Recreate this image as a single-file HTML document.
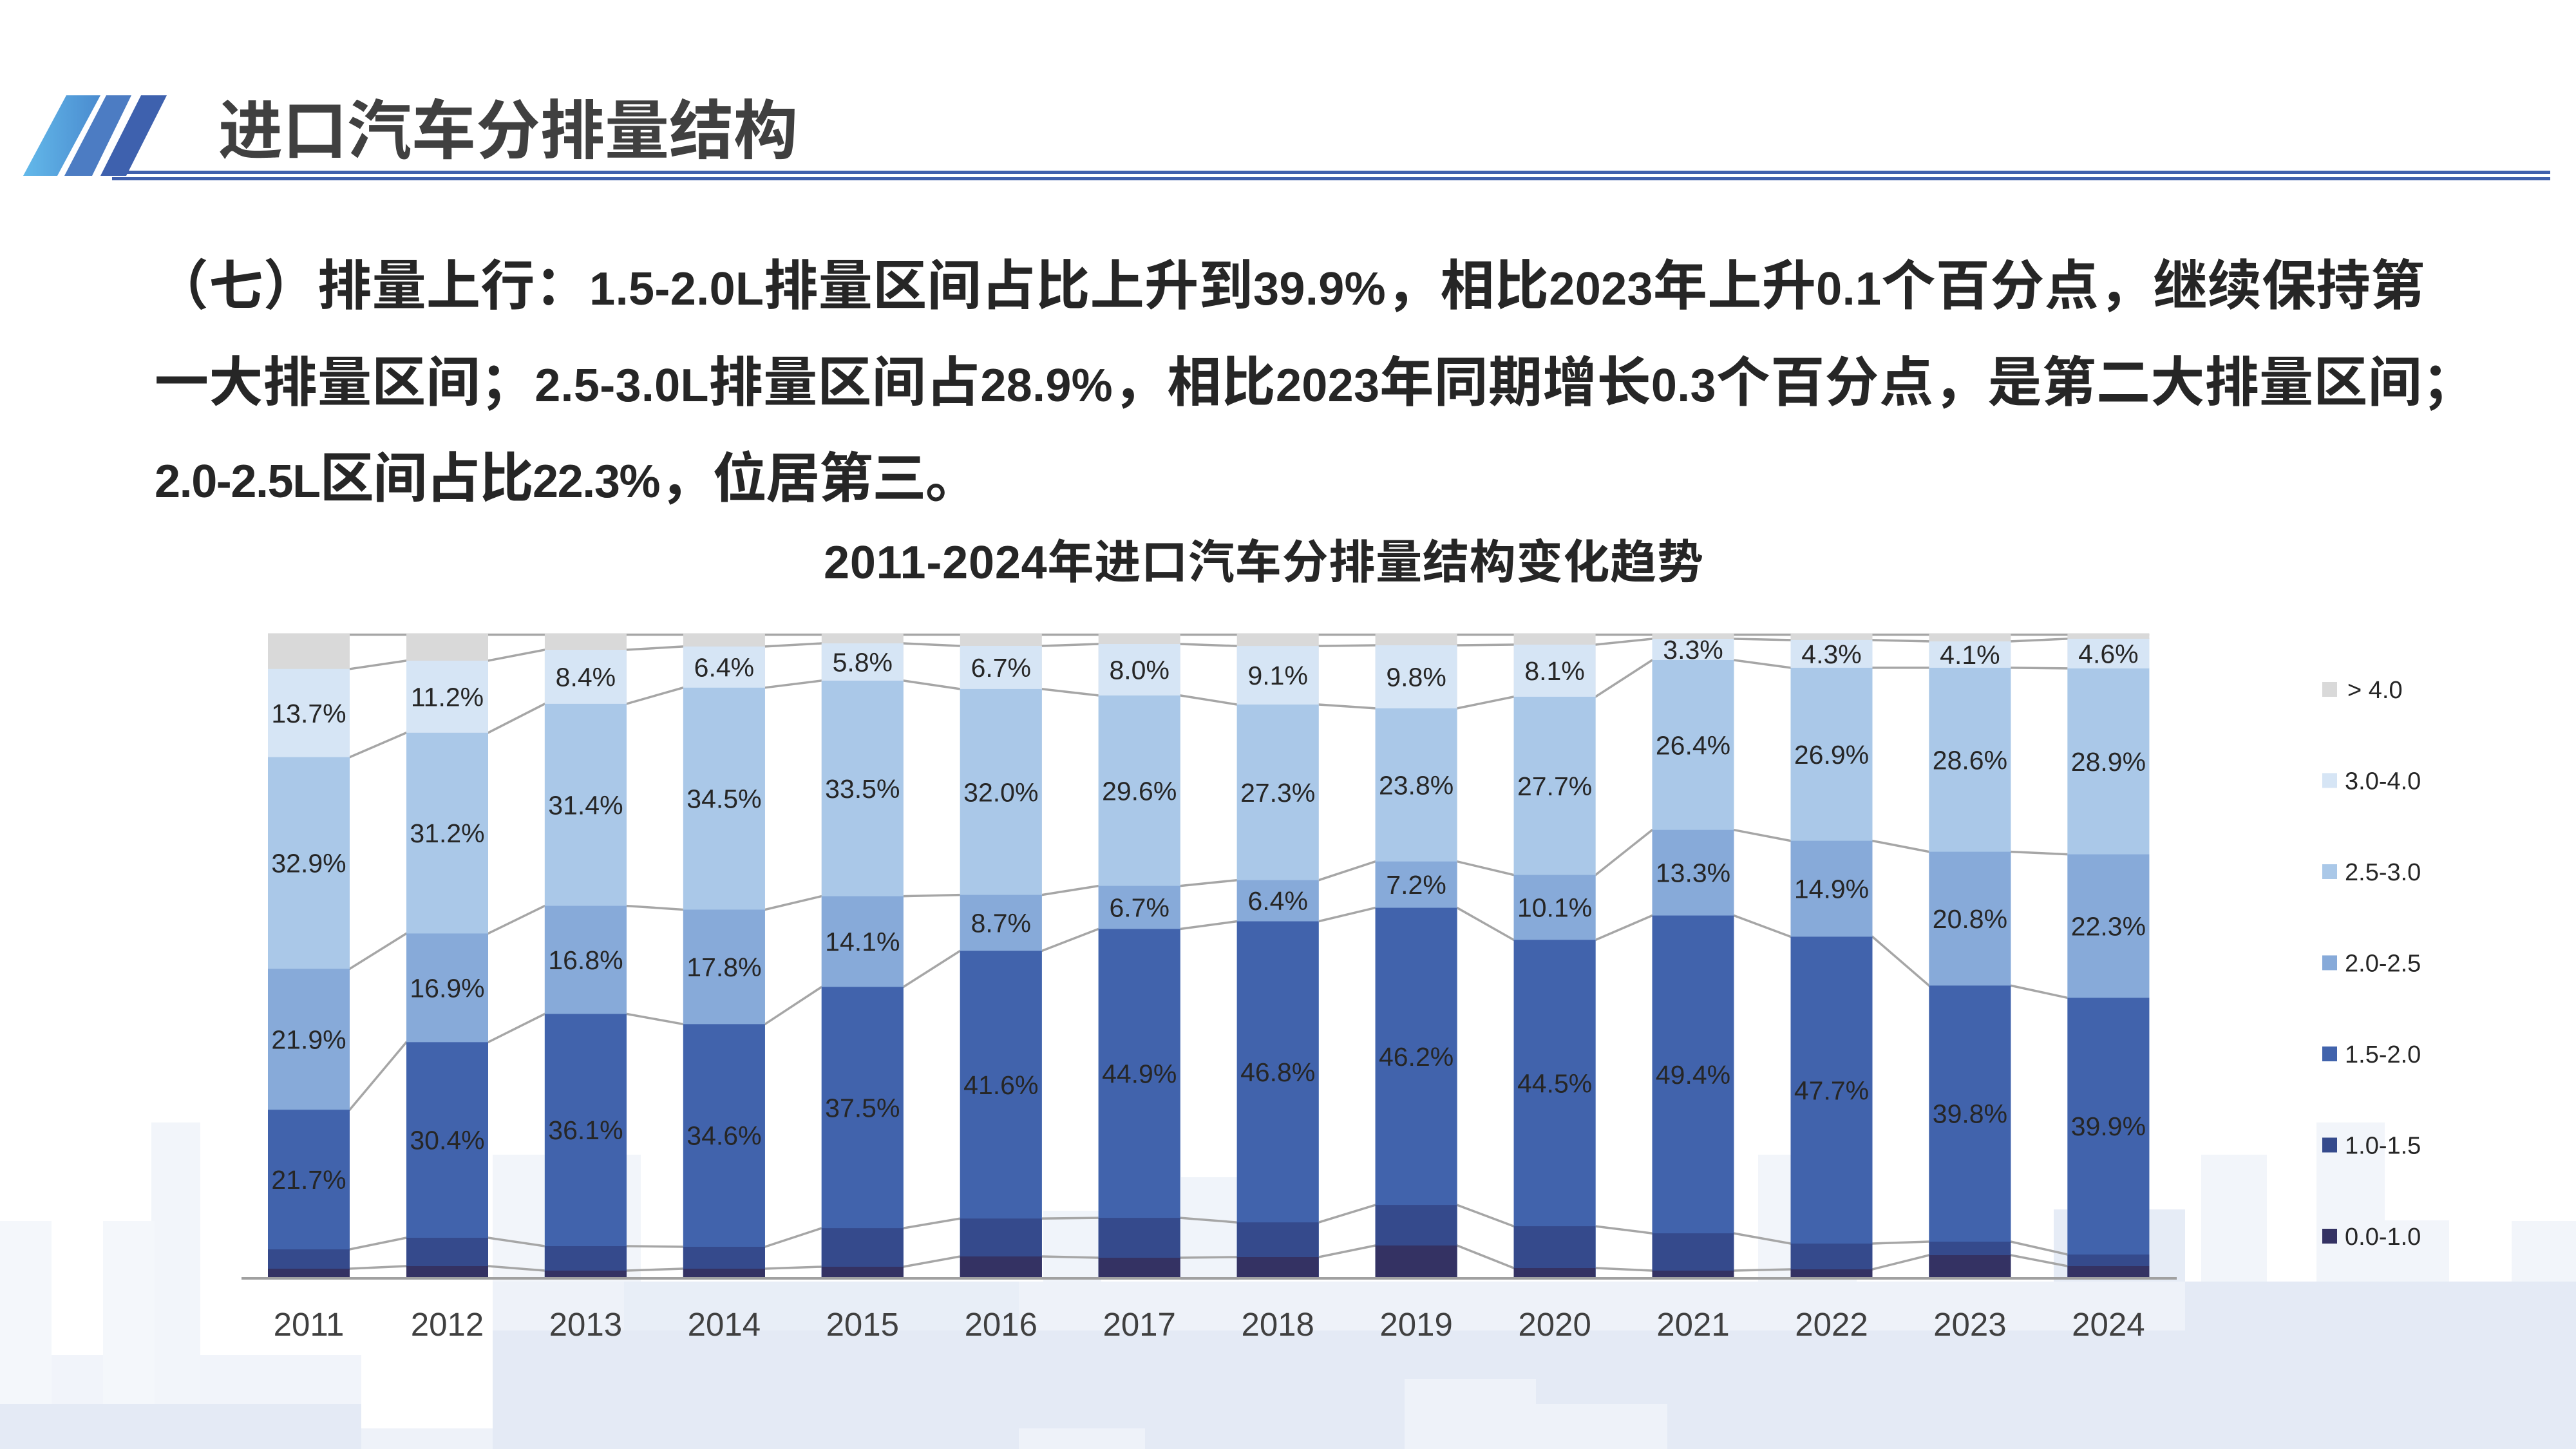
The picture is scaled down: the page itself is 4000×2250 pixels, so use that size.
<!DOCTYPE html>
<html>
<head>
<meta charset="utf-8">
<style>
html,body{margin:0;padding:0;background:#ffffff;}
svg{display:block;}
text{font-family:"Liberation Sans","Noto Sans CJK SC",sans-serif;}
</style>
</head>
<body>
<svg width="4000" height="2250" viewBox="0 0 4000 2250" xmlns="http://www.w3.org/2000/svg">
<defs>
<linearGradient id="g1" x1="0" y1="0" x2="1" y2="0">
<stop offset="0" stop-color="#63b9ea"/><stop offset="1" stop-color="#4a8bcf"/>
</linearGradient>
</defs>

<!-- faint skyline background -->
<g>
<rect x="0" y="2104" width="561" height="146" fill="#f1f4fa"/>
<rect x="235" y="1743" width="76" height="440" fill="#f2f5fa"/>
<rect x="0" y="1896" width="80" height="290" fill="#f4f7fb"/>
<rect x="160" y="1896" width="80" height="290" fill="#f4f7fb"/>
<rect x="765" y="1793" width="230" height="280" fill="#f2f5fa"/>
<rect x="1620" y="1880" width="90" height="110" fill="#f0f4fa"/>
<rect x="1834" y="1828" width="90" height="160" fill="#f0f4fa"/>
<rect x="2730" y="1793" width="153" height="280" fill="#f2f5fa"/>
<rect x="3418" y="1793" width="102" height="200" fill="#f2f5fa"/>
<rect x="3597" y="1743" width="106" height="250" fill="#f2f5fa"/>
<rect x="3703" y="1895" width="100" height="100" fill="#f2f5fa"/>
<rect x="3900" y="1896" width="100" height="100" fill="#f2f5fa"/>
<rect x="3189" y="1878" width="204" height="200" fill="#e6ecf6"/>
<rect x="765" y="1990" width="2628" height="80" fill="#eef2f9"/>
<rect x="969" y="1990" width="613" height="90" fill="#e8eef7"/>
<rect x="3393" y="1990" width="607" height="260" fill="#e4eaf5"/>
<rect x="765" y="2066" width="2628" height="184" fill="#e4eaf5"/>
<rect x="0" y="2180" width="561" height="70" fill="#e4eaf5"/>
<rect x="561" y="2218" width="204" height="32" fill="#eef2f9"/>
<rect x="1582" y="2218" width="196" height="32" fill="#eef2f9"/>
<rect x="2181" y="2141" width="204" height="109" fill="#eef2f9"/>
<rect x="2385" y="2180" width="204" height="70" fill="#eef2f9"/>
</g>

<!-- header -->
<polygon points="103,148 156,148 89,273 36,273" fill="url(#g1)"/>
<polygon points="165,148 204,148 143,273 100,273" fill="#4c7cc3"/>
<polygon points="219,148 259,148 196,273 156,273" fill="#3e61ae"/>
<rect x="196" y="265" width="3764" height="5" fill="#4060ad"/>
<rect x="174" y="275" width="3786" height="5" fill="#4060ad"/>
<text x="339" y="238" font-size="100" font-weight="bold" fill="#404040">进口汽车分排量结构</text>

<!-- paragraph -->
<g font-size="84" font-weight="bold" fill="#262626">
<text x="240" y="473" textLength="3525" lengthAdjust="spacing">（七）排量上行：<tspan font-size="72">1.5-2.0L</tspan>排量区间占比上升到<tspan font-size="72">39.9%</tspan>，相比<tspan font-size="72">2023</tspan>年上升<tspan font-size="72">0.1</tspan>个百分点，继续保持第</text>
<text x="240" y="623" textLength="3605" lengthAdjust="spacing">一大排量区间；<tspan font-size="72">2.5-3.0L</tspan>排量区间占<tspan font-size="72">28.9%</tspan>，相比<tspan font-size="72">2023</tspan>年同期增长<tspan font-size="72">0.3</tspan>个百分点，是第二大排量区间；</text>
<text x="240" y="772" textLength="1281" lengthAdjust="spacing"><tspan font-size="72">2.0-2.5L</tspan>区间占比<tspan font-size="72">22.3%</tspan>，位居第三。</text>
</g>

<!-- chart title -->
<text x="1279" y="898" font-size="72" font-weight="bold" fill="#262626" textLength="1366" lengthAdjust="spacing">2011-2024年进口汽车分排量结构变化趋势</text>

<!-- series connector lines -->
<g fill="none" stroke="#a6a6a6" stroke-width="3.5">
<polyline points="416,1970 543,1970 631,1966 758,1966 845.9,1973 972.9,1973 1060.9,1970 1187.9,1970 1275.8,1967 1402.8,1967 1490.8,1951 1617.8,1951 1705.7,1953 1832.7,1953 1920.7,1952 2047.7,1952 2135.6,1934 2262.6,1934 2350.6,1969 2477.6,1969 2565.5,1973 2692.5,1973 2780.5,1971 2907.5,1971 2995.4,1949 3122.4,1949 3210.4,1966 3337.4,1966"/>
<polyline points="416,1940 543,1940 631,1922 758,1922 845.9,1935 972.9,1935 1060.9,1936 1187.9,1936 1275.8,1907.1 1402.8,1907.1 1490.8,1892.1 1617.8,1892.1 1705.7,1891.1 1832.7,1891.1 1920.7,1898.1 2047.7,1898.1 2135.6,1871.1 2262.6,1871.1 2350.6,1904.1 2477.6,1904.1 2565.5,1915.1 2692.5,1915.1 2780.5,1931 2907.5,1931 2995.4,1928 3122.4,1928 3210.4,1948 3337.4,1948"/>
<polyline points="416,1723.2 543,1723.2 631,1618.3 758,1618.3 845.9,1574.4 972.9,1574.4 1060.9,1590.3 1187.9,1590.3 1275.8,1532.5 1402.8,1532.5 1490.8,1476.5 1617.8,1476.5 1705.7,1442.5 1832.7,1442.5 1920.7,1430.6 2047.7,1430.6 2135.6,1409.6 2262.6,1409.6 2350.6,1459.5 2477.6,1459.5 2565.5,1421.6 2692.5,1421.6 2780.5,1454.5 2907.5,1454.5 2995.4,1530.4 3122.4,1530.4 3210.4,1549.4 3337.4,1549.4"/>
<polyline points="416,1504.4 543,1504.4 631,1449.5 758,1449.5 845.9,1406.6 972.9,1406.6 1060.9,1412.5 1187.9,1412.5 1275.8,1391.6 1402.8,1391.6 1490.8,1389.6 1617.8,1389.6 1705.7,1375.6 1832.7,1375.6 1920.7,1366.7 2047.7,1366.7 2135.6,1337.7 2262.6,1337.7 2350.6,1358.6 2477.6,1358.6 2565.5,1288.7 2692.5,1288.7 2780.5,1305.6 2907.5,1305.6 2995.4,1322.6 3122.4,1322.6 3210.4,1326.6 3337.4,1326.6"/>
<polyline points="416,1175.7 543,1175.7 631,1137.8 758,1137.8 845.9,1092.9 972.9,1092.9 1060.9,1067.8 1187.9,1067.8 1275.8,1056.9 1402.8,1056.9 1490.8,1069.9 1617.8,1069.9 1705.7,1079.9 1832.7,1079.9 1920.7,1094 2047.7,1094 2135.6,1099.9 2262.6,1099.9 2350.6,1081.9 2477.6,1081.9 2565.5,1025 2692.5,1025 2780.5,1036.9 2907.5,1036.9 2995.4,1036.9 3122.4,1036.9 3210.4,1037.9 3337.4,1037.9"/>
<polyline points="416,1038.8 543,1038.8 631,1025.9 758,1025.9 845.9,1009 972.9,1009 1060.9,1003.9 1187.9,1003.9 1275.8,999 1402.8,999 1490.8,1003 1617.8,1003 1705.7,1000 1832.7,1000 1920.7,1003.1 2047.7,1003.1 2135.6,1002 2262.6,1002 2350.6,1001 2477.6,1001 2565.5,992 2692.5,992 2780.5,993.9 2907.5,993.9 2995.4,995.9 3122.4,995.9 3210.4,991.9 3337.4,991.9"/>
<line x1="416" y1="985.5" x2="3337.4" y2="985.5"/>
</g>

<!-- bars: >4.0 -->
<g fill="#d9d9d9">
<rect x="416" y="984" width="127" height="999"/>
<rect x="631" y="984" width="127" height="999"/>
<rect x="845.9" y="984" width="127" height="999"/>
<rect x="1060.9" y="984" width="127" height="999"/>
<rect x="1275.8" y="984" width="127" height="999"/>
<rect x="1490.8" y="984" width="127" height="999"/>
<rect x="1705.7" y="984" width="127" height="999"/>
<rect x="1920.7" y="984" width="127" height="999"/>
<rect x="2135.6" y="984" width="127" height="999"/>
<rect x="2350.6" y="984" width="127" height="999"/>
<rect x="2565.5" y="984" width="127" height="999"/>
<rect x="2780.5" y="984" width="127" height="999"/>
<rect x="2995.4" y="984" width="127" height="999"/>
<rect x="3210.4" y="984" width="127" height="999"/>
</g>
<!-- 3.0-4.0 -->
<g fill="#d6e5f5">
<rect x="416" y="1038.8" width="127" height="944.2"/>
<rect x="631" y="1025.9" width="127" height="957.1"/>
<rect x="845.9" y="1009" width="127" height="974"/>
<rect x="1060.9" y="1003.9" width="127" height="979.1"/>
<rect x="1275.8" y="999" width="127" height="984"/>
<rect x="1490.8" y="1003" width="127" height="980"/>
<rect x="1705.7" y="1000" width="127" height="983"/>
<rect x="1920.7" y="1003.1" width="127" height="979.9"/>
<rect x="2135.6" y="1002" width="127" height="981"/>
<rect x="2350.6" y="1001" width="127" height="982"/>
<rect x="2565.5" y="992" width="127" height="991"/>
<rect x="2780.5" y="993.9" width="127" height="989.1"/>
<rect x="2995.4" y="995.9" width="127" height="987.1"/>
<rect x="3210.4" y="991.9" width="127" height="991.1"/>
</g>
<!-- 2.5-3.0 -->
<g fill="#aac8e8">
<rect x="416" y="1175.7" width="127" height="807.3"/>
<rect x="631" y="1137.8" width="127" height="845.2"/>
<rect x="845.9" y="1092.9" width="127" height="890.1"/>
<rect x="1060.9" y="1067.8" width="127" height="915.2"/>
<rect x="1275.8" y="1056.9" width="127" height="926.1"/>
<rect x="1490.8" y="1069.9" width="127" height="913.1"/>
<rect x="1705.7" y="1079.9" width="127" height="903.1"/>
<rect x="1920.7" y="1094" width="127" height="889"/>
<rect x="2135.6" y="1099.9" width="127" height="883.1"/>
<rect x="2350.6" y="1081.9" width="127" height="901.1"/>
<rect x="2565.5" y="1025" width="127" height="958"/>
<rect x="2780.5" y="1036.9" width="127" height="946.1"/>
<rect x="2995.4" y="1036.9" width="127" height="946.1"/>
<rect x="3210.4" y="1037.9" width="127" height="945.1"/>
</g>
<!-- 2.0-2.5 -->
<g fill="#87aad9">
<rect x="416" y="1504.4" width="127" height="478.6"/>
<rect x="631" y="1449.5" width="127" height="533.5"/>
<rect x="845.9" y="1406.6" width="127" height="576.4"/>
<rect x="1060.9" y="1412.5" width="127" height="570.5"/>
<rect x="1275.8" y="1391.6" width="127" height="591.4"/>
<rect x="1490.8" y="1389.6" width="127" height="593.4"/>
<rect x="1705.7" y="1375.6" width="127" height="607.4"/>
<rect x="1920.7" y="1366.7" width="127" height="616.3"/>
<rect x="2135.6" y="1337.7" width="127" height="645.3"/>
<rect x="2350.6" y="1358.6" width="127" height="624.4"/>
<rect x="2565.5" y="1288.7" width="127" height="694.3"/>
<rect x="2780.5" y="1305.6" width="127" height="677.4"/>
<rect x="2995.4" y="1322.6" width="127" height="660.4"/>
<rect x="3210.4" y="1326.6" width="127" height="656.4"/>
</g>
<!-- 1.5-2.0 -->
<g fill="#4163ac">
<rect x="416" y="1723.2" width="127" height="259.8"/>
<rect x="631" y="1618.3" width="127" height="364.7"/>
<rect x="845.9" y="1574.4" width="127" height="408.6"/>
<rect x="1060.9" y="1590.3" width="127" height="392.7"/>
<rect x="1275.8" y="1532.5" width="127" height="450.5"/>
<rect x="1490.8" y="1476.5" width="127" height="506.5"/>
<rect x="1705.7" y="1442.5" width="127" height="540.5"/>
<rect x="1920.7" y="1430.6" width="127" height="552.4"/>
<rect x="2135.6" y="1409.6" width="127" height="573.4"/>
<rect x="2350.6" y="1459.5" width="127" height="523.5"/>
<rect x="2565.5" y="1421.6" width="127" height="561.4"/>
<rect x="2780.5" y="1454.5" width="127" height="528.5"/>
<rect x="2995.4" y="1530.4" width="127" height="452.6"/>
<rect x="3210.4" y="1549.4" width="127" height="433.6"/>
</g>
<!-- 1.0-1.5 -->
<g fill="#354a8c">
<rect x="416" y="1940" width="127" height="43"/>
<rect x="631" y="1922" width="127" height="61"/>
<rect x="845.9" y="1935" width="127" height="48"/>
<rect x="1060.9" y="1936" width="127" height="47"/>
<rect x="1275.8" y="1907.1" width="127" height="75.9"/>
<rect x="1490.8" y="1892.1" width="127" height="90.9"/>
<rect x="1705.7" y="1891.1" width="127" height="91.9"/>
<rect x="1920.7" y="1898.1" width="127" height="84.9"/>
<rect x="2135.6" y="1871.1" width="127" height="111.9"/>
<rect x="2350.6" y="1904.1" width="127" height="78.9"/>
<rect x="2565.5" y="1915.1" width="127" height="67.9"/>
<rect x="2780.5" y="1931" width="127" height="52"/>
<rect x="2995.4" y="1928" width="127" height="55"/>
<rect x="3210.4" y="1948" width="127" height="35"/>
</g>
<!-- 0.0-1.0 -->
<g fill="#343263">
<rect x="416" y="1970" width="127" height="13"/>
<rect x="631" y="1966" width="127" height="17"/>
<rect x="845.9" y="1973" width="127" height="10"/>
<rect x="1060.9" y="1970" width="127" height="13"/>
<rect x="1275.8" y="1967" width="127" height="16"/>
<rect x="1490.8" y="1951" width="127" height="32"/>
<rect x="1705.7" y="1953" width="127" height="30"/>
<rect x="1920.7" y="1952" width="127" height="31"/>
<rect x="2135.6" y="1934" width="127" height="49"/>
<rect x="2350.6" y="1969" width="127" height="14"/>
<rect x="2565.5" y="1973" width="127" height="10"/>
<rect x="2780.5" y="1971" width="127" height="12"/>
<rect x="2995.4" y="1949" width="127" height="34"/>
<rect x="3210.4" y="1966" width="127" height="17"/>
</g>

<!-- axis -->
<rect x="375" y="1983" width="3005" height="4" fill="#a0a0a0"/>

<!-- data labels -->
<g font-size="41" fill="#262626" text-anchor="middle">
<text x="479.5" y="1846.1">21.7%</text><text x="479.5" y="1628.3">21.9%</text><text x="479.5" y="1354.6">32.9%</text><text x="479.5" y="1121.8">13.7%</text>
<text x="694.5" y="1784.7">30.4%</text><text x="694.5" y="1548.4">16.9%</text><text x="694.5" y="1308.2">31.2%</text><text x="694.5" y="1096.4">11.2%</text>
<text x="909.4" y="1769.2">36.1%</text><text x="909.4" y="1505">16.8%</text><text x="909.4" y="1264.3">31.4%</text><text x="909.4" y="1065.5">8.4%</text>
<text x="1124.4" y="1777.7">34.6%</text><text x="1124.4" y="1515.9">17.8%</text><text x="1124.4" y="1254.7">34.5%</text><text x="1124.4" y="1050.4">6.4%</text>
<text x="1339.3" y="1734.3">37.5%</text><text x="1339.3" y="1476.6">14.1%</text><text x="1339.3" y="1238.8">33.5%</text><text x="1339.3" y="1042.5">5.8%</text>
<text x="1554.3" y="1698.8">41.6%</text><text x="1554.3" y="1447.6">8.7%</text><text x="1554.3" y="1244.3">32.0%</text><text x="1554.3" y="1051">6.7%</text>
<text x="1769.2" y="1681.3">44.9%</text><text x="1769.2" y="1423.6">6.7%</text><text x="1769.2" y="1242.3">29.6%</text><text x="1769.2" y="1054.5">8.0%</text>
<text x="1984.2" y="1678.9">46.8%</text><text x="1984.2" y="1413.2">6.4%</text><text x="1984.2" y="1244.9">27.3%</text><text x="1984.2" y="1063.1">9.1%</text>
<text x="2199.1" y="1654.9">46.2%</text><text x="2199.1" y="1388.2">7.2%</text><text x="2199.1" y="1233.3">23.8%</text><text x="2199.1" y="1065.5">9.8%</text>
<text x="2414.1" y="1696.3">44.5%</text><text x="2414.1" y="1423.6">10.1%</text><text x="2414.1" y="1234.8">27.7%</text><text x="2414.1" y="1056">8.1%</text>
<text x="2629" y="1682.9">49.4%</text><text x="2629" y="1369.7">13.3%</text><text x="2629" y="1171.4">26.4%</text><text x="2629" y="1023">3.3%</text>
<text x="2844" y="1707.3">47.7%</text><text x="2844" y="1394.6">14.9%</text><text x="2844" y="1185.8">26.9%</text><text x="2844" y="1029.9">4.3%</text>
<text x="3058.9" y="1743.7">39.8%</text><text x="3058.9" y="1441">20.8%</text><text x="3058.9" y="1194.3">28.6%</text><text x="3058.9" y="1030.9">4.1%</text>
<text x="3273.9" y="1763.2">39.9%</text><text x="3273.9" y="1452.5">22.3%</text><text x="3273.9" y="1196.8">28.9%</text><text x="3273.9" y="1029.4">4.6%</text>
</g>

<!-- year labels -->
<g font-size="51" fill="#404040" text-anchor="middle">
<text x="479.5" y="2074">2011</text>
<text x="694.5" y="2074">2012</text>
<text x="909.4" y="2074">2013</text>
<text x="1124.4" y="2074">2014</text>
<text x="1339.3" y="2074">2015</text>
<text x="1554.3" y="2074">2016</text>
<text x="1769.2" y="2074">2017</text>
<text x="1984.2" y="2074">2018</text>
<text x="2199.1" y="2074">2019</text>
<text x="2414.1" y="2074">2020</text>
<text x="2629" y="2074">2021</text>
<text x="2844" y="2074">2022</text>
<text x="3058.9" y="2074">2023</text>
<text x="3273.9" y="2074">2024</text>
</g>

<!-- legend -->
<rect x="3606" y="1059" width="23" height="23" fill="#d9d9d9"/>
<rect x="3606" y="1200.5" width="23" height="23" fill="#d6e5f5"/>
<rect x="3606" y="1342" width="23" height="23" fill="#aac8e8"/>
<rect x="3606" y="1483.5" width="23" height="23" fill="#87aad9"/>
<rect x="3606" y="1625" width="23" height="23" fill="#4163ac"/>
<rect x="3606" y="1766.5" width="23" height="23" fill="#354a8c"/>
<rect x="3606" y="1908" width="23" height="23" fill="#343263"/>
<g font-size="38" fill="#262626">
<text x="3645" y="1084">&gt; 4.0</text>
<text x="3641" y="1225.5">3.0-4.0</text>
<text x="3641" y="1367">2.5-3.0</text>
<text x="3641" y="1508.5">2.0-2.5</text>
<text x="3641" y="1650">1.5-2.0</text>
<text x="3641" y="1791.5">1.0-1.5</text>
<text x="3641" y="1933">0.0-1.0</text>
</g>
</svg>
</body>
</html>
